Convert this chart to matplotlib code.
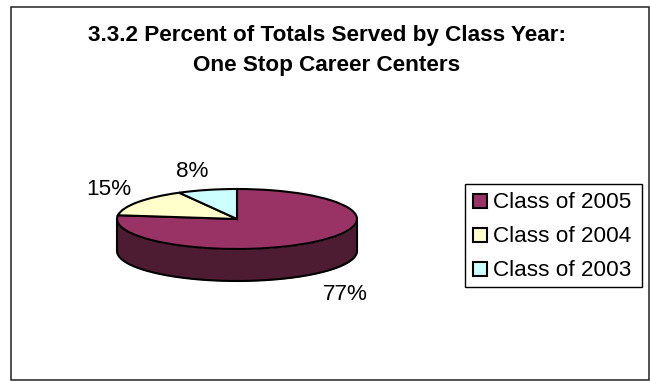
import numpy as np
import matplotlib
matplotlib.use("Agg")
import matplotlib.pyplot as plt
from matplotlib.patches import Rectangle

plt.rcParams['font.family'] = ['Liberation Sans', 'DejaVu Sans']

classes = ["Class of 2005", "Class of 2004", "Class of 2003"]
percents = [77, 15, 8]
colors = ["#993366", "#FFFFCC", "#CCFFFF"]
wall_color = "#4D1C33"
title_lines = ["3.3.2 Percent of Totals Served by Class Year:", "One Stop Career Centers"]

W, H = 650, 381
fig = plt.figure(figsize=(W / 100, H / 100), dpi=100, facecolor="white")


def fig_box(x0, y0, x1, y1):
    """Convert a pixel box (origin top-left) to figure fractions."""
    return [x0 / W, 1 - y1 / H, (x1 - x0) / W, (y1 - y0) / H]


# Overlay in pixel coordinates for the frame, title and legend
over = fig.add_axes([0, 0, 1, 1], zorder=3)
over.set_xlim(0, W)
over.set_ylim(H, 0)
over.axis("off")
over.add_patch(Rectangle((10.5, 6.5), 638.5, 373.5, fill=False, ec="#222222", lw=1.1))
for y, line in zip([41, 71], title_lines):
    over.text(327, y, line, ha="center", va="baseline", fontsize=16.2, fontweight="bold")

# Flattened pie: the unit circle is squeezed into a 240x60 ellipse
ax = fig.add_axes(fig_box(117, 189, 357, 249), zorder=2)
depth = 32 / 30
theta = np.linspace(np.pi, 2 * np.pi, 200)
ax.fill_between(np.cos(theta), np.sin(theta), np.sin(theta) - depth,
                color=wall_color, lw=0, clip_on=False)
ax.plot(np.cos(theta), np.sin(theta) - depth, color="black", lw=1.5,
        clip_on=False, solid_capstyle="round")
for side in (-1, 1):
    ax.plot([side, side], [0, -depth], color="black", lw=1.5, clip_on=False)
wedges, _ = ax.pie(percents, colors=colors, startangle=90, counterclock=False,
                   radius=1, wedgeprops=dict(edgecolor="black", linewidth=1.5))
for w in wedges:
    w.set_clip_on(False)
ax.set_aspect("auto")
ax.set_xlim(-1, 1)
ax.set_ylim(-1, 1)
ax.axis("off")

# Percent labels sitting outside the slices
label_xy = [(345, 299.5), (108.5, 195), (192, 177)]
for (x, y), p in zip(label_xy, percents):
    over.text(x, y, f"{p}%", ha="center", va="baseline", fontsize=16.2)

# Legend
over.add_patch(Rectangle((464.5, 183.5), 177, 103, fc="white", ec="black", lw=1.0, zorder=3))
for y, c, name in zip([201, 235, 269], colors, classes):
    over.add_patch(Rectangle((472.5, y - 7), 14, 14, fc=c, ec="black", lw=1.5, zorder=4))
    over.text(493, y + 7, name, ha="left", va="baseline", fontsize=16.2, zorder=4)

fig.savefig("out.png", dpi=100, facecolor="white")
